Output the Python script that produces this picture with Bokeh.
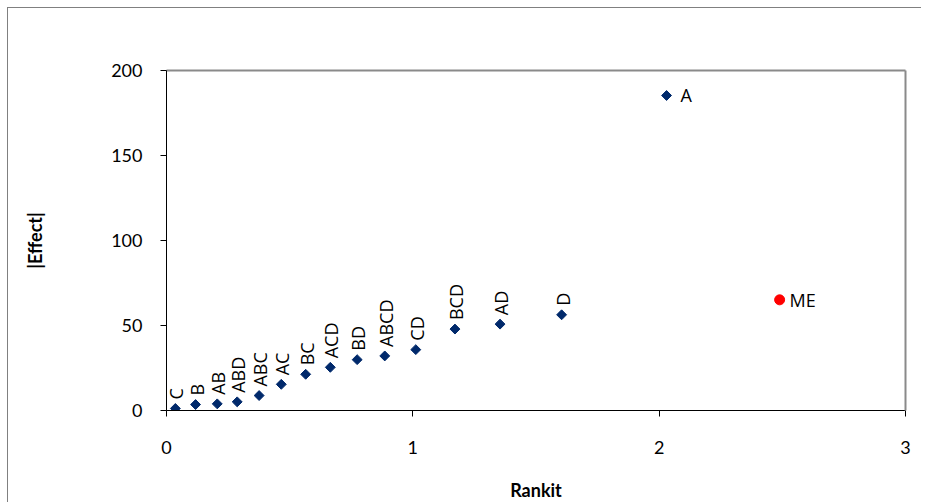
from bokeh.plotting import figure
from bokeh.models import ColumnDataSource, Range1d, FixedTicker, LinearAxis
from bokeh.core.properties import value
from bokeh.embed import file_html
from bokeh.resources import INLINE
import math

# ---- data ----
effect_names = ["C", "B", "AB", "ABD", "ABC", "AC", "BC", "ACD", "BD", "ABCD", "CD", "BCD", "AD", "D", "A"]
rankits = [0.036, 0.118, 0.206, 0.287, 0.376, 0.466, 0.565, 0.665, 0.774, 0.886, 1.012, 1.171, 1.354, 1.604, 2.030]
abs_effects = [1.2, 3.5, 3.9, 5.1, 8.8, 15.4, 21.3, 25.4, 29.9, 32.1, 35.8, 47.9, 50.8, 56.3, 185.3]
me_names = ["ME"]
me_rankits = [2.489]
me_values = [65.1]
x_ticks = [0, 1, 2, 3]
y_ticks = [0, 50, 100, 150, 200]
horizontal_labels = ["A"]

TICK_FONT = "Lato"
LABEL_FONT = "Open Sans"

p = figure(width=914, height=495, output_backend="svg", toolbar_location=None,
           x_range=Range1d(0, 3), y_range=Range1d(0, 200),
           min_border_left=158, min_border_right=17, min_border_top=62, min_border_bottom=92)
p.styles = {"margin-left": "7px", "margin-top": "7px",
            "border-left": "1px solid #808080", "border-top": "1px solid #808080"}
p.background_fill_color = "white"
p.border_fill_color = "white"
p.outline_line_color = None
p.xgrid.visible = False
p.ygrid.visible = False

for ax in (p.xaxis[0], p.yaxis[0]):
    ax.axis_line_color = "black"
    ax.axis_line_width = 1
    ax.major_tick_line_color = "black"
    ax.major_tick_out = 6
    ax.major_tick_in = 0
    ax.minor_tick_line_color = None
    ax.major_label_text_font = TICK_FONT
    ax.major_label_text_font_size = "18px"
    ax.major_label_text_color = "black"
    ax.axis_label_text_font = TICK_FONT
    ax.axis_label_text_font_size = "18px"
    ax.axis_label_text_font_style = "bold"
    ax.axis_label_text_color = "black"

p.xaxis[0].ticker = FixedTicker(ticks=x_ticks)
p.yaxis[0].ticker = FixedTicker(ticks=y_ticks)
p.xaxis[0].axis_label = "Rankit"
p.yaxis[0].axis_label = "|Effect|"
p.xaxis[0].major_label_standoff = 24
p.yaxis[0].major_label_standoff = 18
p.xaxis[0].axis_label_standoff = 22
p.yaxis[0].axis_label_standoff = 62

# grey plot-area edges on top and right
for side in ("above", "right"):
    edge = LinearAxis(ticker=FixedTicker(ticks=[]), axis_line_color="#8a8a8a", axis_line_width=2,
                      major_tick_line_color=None, minor_tick_line_color=None,
                      major_label_text_font_size="0px")
    p.add_layout(edge, side)

# effects
src = ColumnDataSource(dict(x=rankits, y=abs_effects, name=effect_names))
p.scatter("x", "y", source=src, marker="square", angle=math.pi / 4, size=7,
          fill_color="#00296b", line_color="#00296b")

rot = [i for i, n in enumerate(effect_names) if n not in horizontal_labels]
hor = [i for i, n in enumerate(effect_names) if n in horizontal_labels]
rot_src = ColumnDataSource(dict(x=[rankits[i] for i in rot], y=[abs_effects[i] for i in rot],
                                name=[effect_names[i] for i in rot]))
hor_src = ColumnDataSource(dict(x=[rankits[i] for i in hor], y=[abs_effects[i] for i in hor],
                                name=[effect_names[i] for i in hor]))
p.text("x", "y", text="name", source=rot_src, angle=math.pi / 2,
       text_align="left", text_baseline="middle", y_offset=-9, x_offset=1,
       text_font=value(LABEL_FONT), text_font_size="18px", text_color="black")
p.text("x", "y", text="name", source=hor_src,
       text_align="left", text_baseline="middle", x_offset=14,
       text_font=value(LABEL_FONT), text_font_size="18px", text_color="black")

# ME
me_src = ColumnDataSource(dict(x=me_rankits, y=me_values, name=me_names))
p.scatter("x", "y", source=me_src, marker="circle", size=10,
          fill_color="#ff0000", line_color="#ff0000")
p.text("x", "y", text="name", source=me_src,
       text_align="left", text_baseline="middle", x_offset=10,
       text_font=value(LABEL_FONT), text_font_size="18px", text_color="black")

open("out.html", "w").write(file_html(p, INLINE))
